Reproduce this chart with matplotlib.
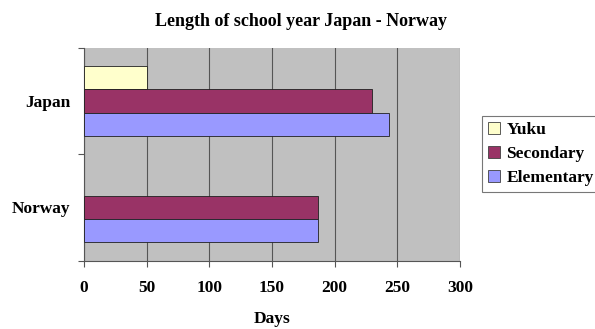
import numpy as np
import matplotlib
matplotlib.use("Agg")
import matplotlib.pyplot as plt
from matplotlib.ticker import FixedLocator, NullFormatter

countries = ["Norway", "Japan"]
series_names = ["Yuku", "Secondary", "Elementary"]
yuku = [0, 50]
secondary = [187, 230]
elementary = [187, 243]
x_ticks = [0, 50, 100, 150, 200, 250, 300]

colors = {"Yuku": "#ffffcc", "Secondary": "#993366", "Elementary": "#9999ff"}

plt.rcParams["font.family"] = ["Liberation Serif", "DejaVu Serif"]
plt.rcParams["font.weight"] = "bold"

fig = plt.figure(figsize=(5.95, 3.29), dpi=100)
ax = fig.add_axes([84 / 595, 1 - 260.5 / 329, 376 / 595, 212.5 / 329])
ax.set_facecolor("#c0c0c0")

y = np.arange(len(countries))
h = 0.22
offsets = {"Yuku": h, "Secondary": 0.0, "Elementary": -h}
values = {"Yuku": yuku, "Secondary": secondary, "Elementary": elementary}
for name in series_names:
    vals = np.array(values[name], dtype=float)
    vals[vals == 0] = np.nan
    ax.barh(y + offsets[name], vals, height=h, color=colors[name],
            edgecolor="#202020", linewidth=0.6, label=name, zorder=3)

ax.set_xlim(0, 300)
ax.set_ylim(-0.5, 1.5)
ax.set_xticks(x_ticks)
ax.set_xticklabels([str(v) for v in x_ticks], fontsize=12.5, fontweight="bold")
ax.xaxis.grid(True, color="#555555", linewidth=0.8, zorder=1)
ax.set_axisbelow(True)

ax.set_yticks(y)
ax.set_yticklabels(countries, fontsize=12.5, fontweight="bold")
ax.tick_params(axis="y", which="major", length=0, pad=10)
ax.yaxis.set_minor_locator(FixedLocator([-0.5, 0.5, 1.5]))
ax.yaxis.set_minor_formatter(NullFormatter())
ax.tick_params(axis="y", which="minor", length=4, width=0.8, color="#555555")
ax.tick_params(axis="x", length=4, width=0.8, color="#555555", pad=10)

for side in ["top", "right"]:
    ax.spines[side].set_visible(False)
for side in ["left", "bottom"]:
    ax.spines[side].set_color("#555555")
    ax.spines[side].set_linewidth(0.8)

ax.set_xlabel("Days", fontsize=12.5, fontweight="bold", labelpad=11)
fig.text(301 / 595, 1 - 22 / 329, "Length of school year Japan - Norway",
         ha="center", va="center", fontsize=13, fontweight="bold")

leg = fig.legend(loc="upper left", bbox_to_anchor=(482 / 595, 1 - 116 / 329),
                 fontsize=12.5, frameon=True, fancybox=False, edgecolor="#555555",
                 handlelength=0.7, handleheight=0.7, handletextpad=0.35,
                 borderpad=0.35, labelspacing=0.45, borderaxespad=0)
leg.get_frame().set_linewidth(0.8)
for patch in leg.get_patches():
    patch.set_edgecolor("#404040")

fig.savefig("out.png", dpi=100, facecolor="white")
